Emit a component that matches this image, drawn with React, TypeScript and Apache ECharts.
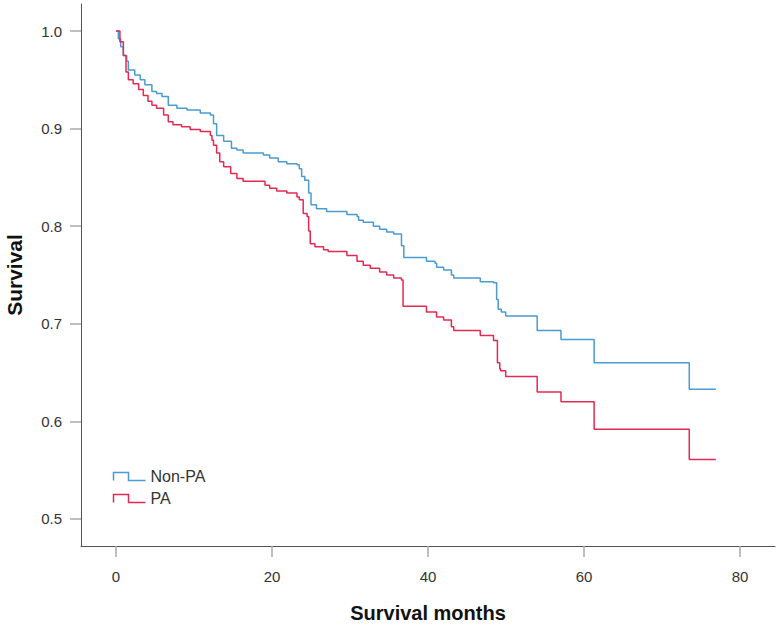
import React, { useEffect, useRef } from "react";
import * as echarts from "echarts";

const nonPaMonths = [0, 0.3, 0.6, 0.94, 1.37, 1.58, 2.4, 3.1, 3.7, 4.6, 5.2, 5.9, 6.7, 7.8, 9.1, 10.8, 12.1, 12.5, 12.9, 13.8, 14.8, 15.5, 16.3, 18.9, 19.7, 20.8, 21.9, 23.2, 23.5, 23.8, 24.2, 24.7, 25.0, 25.7, 27.0, 29.6, 30.9, 31.1, 31.7, 33.0, 33.8, 34.7, 35.6, 36.6, 36.9, 39.8, 40.9, 41.1, 42.0, 43.0, 43.3, 46.7, 48.4, 48.8, 49.0, 49.4, 49.96, 54.0, 57.05, 61.3, 73.5, 76.9];
const nonPaSurvival = [1.0, 0.992, 0.984, 0.975, 0.969, 0.96, 0.955, 0.95, 0.945, 0.938, 0.936, 0.933, 0.924, 0.921, 0.919, 0.916, 0.914, 0.905, 0.893, 0.887, 0.88, 0.878, 0.875, 0.873, 0.87, 0.866, 0.864, 0.863, 0.859, 0.851, 0.847, 0.834, 0.822, 0.818, 0.815, 0.812, 0.81, 0.806, 0.804, 0.8, 0.797, 0.794, 0.792, 0.78, 0.768, 0.764, 0.762, 0.758, 0.755, 0.75, 0.747, 0.743, 0.742, 0.725, 0.715, 0.712, 0.708, 0.693, 0.684, 0.66, 0.633, 0.633];

const paMonths = [0, 0.5, 0.94, 1.28, 1.58, 2.2, 2.9, 3.5, 4.1, 4.6, 5.2, 6.1, 6.7, 7.3, 8.4, 9.5, 10.8, 12.1, 12.3, 12.5, 12.9, 13.3, 13.8, 14.7, 15.5, 16.3, 19.1, 19.7, 20.6, 21.9, 23.2, 23.5, 24.0, 24.5, 24.7, 24.9, 25.5, 26.6, 27.2, 29.6, 30.9, 31.7, 32.6, 33.8, 34.7, 35.6, 36.6, 36.8, 39.8, 41.1, 42.0, 43.0, 43.3, 46.7, 48.4, 48.9, 49.2, 49.3, 49.96, 54.0, 57.05, 61.3, 73.5, 76.9];
const paSurvival = [1.0, 0.989, 0.975, 0.958, 0.95, 0.946, 0.94, 0.934, 0.928, 0.924, 0.921, 0.914, 0.907, 0.904, 0.902, 0.899, 0.897, 0.893, 0.888, 0.883, 0.875, 0.866, 0.861, 0.854, 0.849, 0.846, 0.842, 0.839, 0.836, 0.834, 0.83, 0.827, 0.813, 0.81, 0.795, 0.782, 0.779, 0.776, 0.774, 0.77, 0.764, 0.76, 0.757, 0.753, 0.75, 0.747, 0.745, 0.718, 0.712, 0.707, 0.704, 0.697, 0.693, 0.688, 0.683, 0.66, 0.654, 0.652, 0.646, 0.63, 0.62, 0.592, 0.561, 0.561];

const xTicks = [0, 20, 40, 60, 80];
const yTicks = [0.5, 0.6, 0.7, 0.8, 0.9, 1.0];

const BLUE = "#4a9bd2";
const RED = "#e22a52";
const FONT = "Liberation Sans";
const LEGEND_ICON = "path://M0,8 L0,0 L15,0 L15,8 L32,8";

export default function App() {
  const ref = useRef<HTMLDivElement>(null);
  useEffect(() => {
    if (!ref.current) return;
    const chart = echarts.init(ref.current, undefined, { renderer: "svg" });
    const pairs = (xs: number[], ys: number[]) => xs.map((x, i) => [x, ys[i]]);
    chart.setOption({
      animation: false,
      backgroundColor: "#ffffff",
      grid: { left: 81, right: 5, top: 4, bottom: 80, containLabel: false, outerBoundsMode: "none" },
      legend: {
        orient: "vertical",
        left: 106,
        top: 463,
        itemWidth: 32,
        itemHeight: 8,
        itemGap: 5,
        icon: LEGEND_ICON,
        textStyle: { fontSize: 16, fontFamily: FONT, color: "#333", lineHeight: 17 },
        data: [
          { name: "Non-PA", icon: LEGEND_ICON, itemStyle: { color: "none", borderColor: BLUE, borderWidth: 1.5 } },
          { name: "PA", icon: LEGEND_ICON, itemStyle: { color: "none", borderColor: RED, borderWidth: 1.5 } },
        ],
      },
      xAxis: {
        type: "value",
        min: -4.49,
        max: 84.49,
        name: "Survival months",
        nameLocation: "middle",
        nameGap: 56,
        nameTextStyle: { fontSize: 20, fontWeight: "bold", fontFamily: FONT, color: "#111", lineHeight: 22 },
        axisLine: { show: true, onZero: false, lineStyle: { color: "#555", width: 1 } },
        axisTick: { show: true, length: 11, customValues: xTicks, lineStyle: { color: "#aaa", width: 1.5 } },
        axisLabel: { customValues: xTicks, margin: 22, fontSize: 15, fontFamily: FONT, color: "#333", lineHeight: 16 },
        splitLine: { show: false },
      },
      yAxis: {
        type: "value",
        min: 0.4723,
        max: 1.0277,
        name: "Survival",
        nameLocation: "middle",
        nameGap: 56,
        nameRotate: 90,
        nameTextStyle: { fontSize: 21, fontWeight: "bold", fontFamily: FONT, color: "#111", lineHeight: 22 },
        axisLine: { show: true, onZero: false, lineStyle: { color: "#555", width: 1 } },
        axisTick: { show: true, length: 11, customValues: yTicks, lineStyle: { color: "#aaa", width: 1.5 } },
        axisLabel: {
          customValues: yTicks,
          margin: 19,
          fontSize: 15,
          fontFamily: FONT,
          color: "#333",
          formatter: (v: number) => v.toFixed(1),
        },
        splitLine: { show: false },
      },
      series: [
        {
          name: "Non-PA",
          type: "line",
          step: "end",
          showSymbol: false,
          symbol: "none",
          color: BLUE,
          lineStyle: { color: BLUE, width: 1.5 },
          data: pairs(nonPaMonths, nonPaSurvival),
        },
        {
          name: "PA",
          type: "line",
          step: "end",
          showSymbol: false,
          symbol: "none",
          color: RED,
          lineStyle: { color: RED, width: 1.5 },
          data: pairs(paMonths, paSurvival),
        },
      ],
    });
    return () => chart.dispose();
  }, []);
  return <div ref={ref} style={{ width: 780, height: 626, position: "fixed", left: 0, top: 0 }} />;
}
